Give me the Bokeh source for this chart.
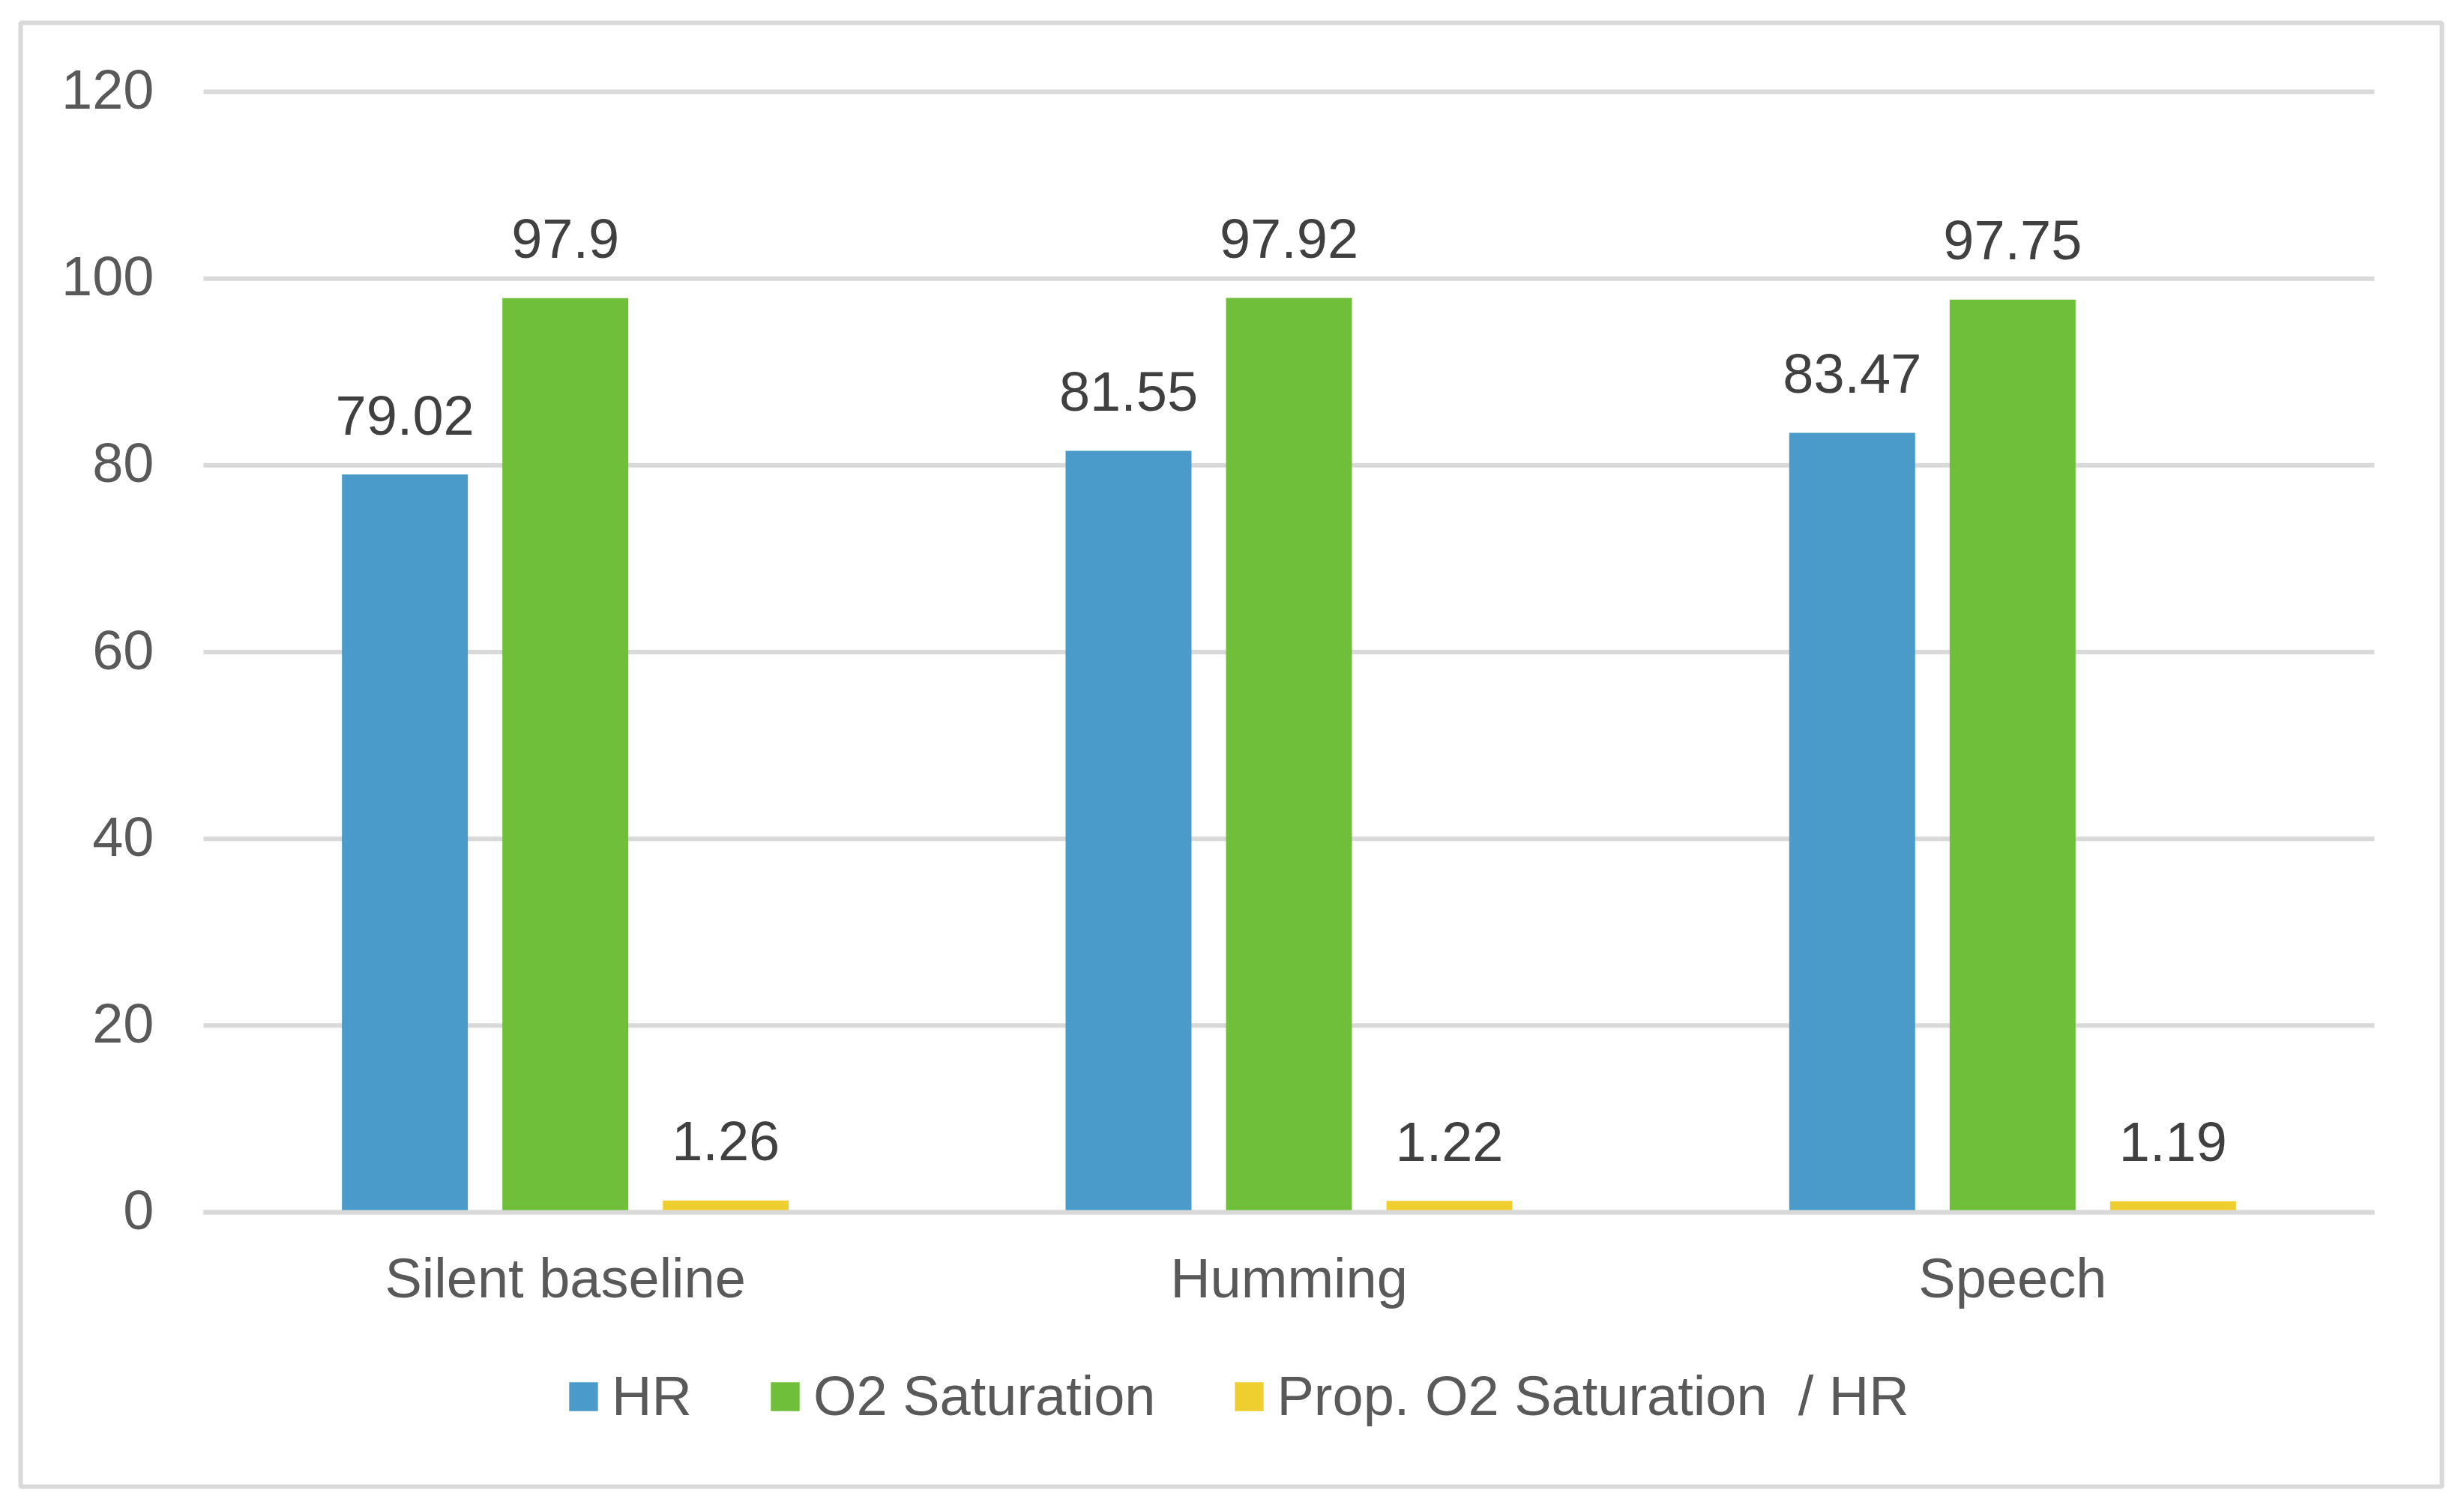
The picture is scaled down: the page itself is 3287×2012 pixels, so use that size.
from bokeh.plotting import figure
from bokeh.models import ColumnDataSource, Range1d, Legend, LegendItem
from bokeh.transform import dodge
from bokeh.core.properties import value
from bokeh.embed import file_html
from bokeh.resources import INLINE

# ---- data ----
categories = ["Silent baseline", "Humming", "Speech"]
series_names = ["HR", "O2 Saturation", "Prop. O2 Saturation  / HR"]
hr_values = [79.02, 81.55, 83.47]
o2_values = [97.9, 97.92, 97.75]
ratio_values = [1.26, 1.22, 1.19]
y_ticks = [0, 20, 40, 60, 80, 100, 120]

colors = ["#4A9BC9", "#70BF3A", "#EFCF2F"]
FONT = "Liberation Sans"
GRID = "#d9d9d9"

x_pos = [i + 1 for i in range(len(categories))]
x_lo, x_hi = x_pos[0] - 0.5, x_pos[-1] + 0.5

source = ColumnDataSource(dict(
    x=x_pos, cat=categories,
    hr=hr_values, o2=o2_values, ratio=ratio_values,
    hr_lbl=[f"{v:g}" for v in hr_values],
    o2_lbl=[f"{v:g}" for v in o2_values],
    ratio_lbl=[f"{v:g}" for v in ratio_values],
    zero=[0] * len(categories),
))
tick_src = ColumnDataSource(dict(
    y=y_ticks, lbl=[str(t) for t in y_ticks],
    x0=[x_lo] * len(y_ticks), x1=[x_hi] * len(y_ticks),
))

# frame = chart-area border box; plot area sits inside it
p = figure(
    x_range=Range1d(0.24724, 3.59323),
    y_range=Range1d(-29.378, 127.385),
    width=3271, height=1996,
    min_border_left=27, min_border_right=14, min_border_top=30, min_border_bottom=13,
    x_axis_location=None, y_axis_location=None,
    output_backend="svg", toolbar_location=None,
)
p.grid.visible = False
p.outline_line_color = GRID
p.outline_line_width = 6
p.background_fill_color = "white"
p.border_fill_color = "white"

# horizontal gridlines (value axis)
p.segment(x0="x0", x1="x1", y0="y", y1="y", source=tick_src,
          line_color=GRID, line_width=6)
# value-axis tick labels
p.text(x="x0", y="y", text="lbl", source=tick_src, text_align="right",
       text_baseline="middle", x_offset=-66, y_offset=-3,
       text_font=value(FONT), text_font_size="74px", text_color="#595959")

offsets = [-0.2217, 0.0, 0.2217]
cols = ["hr", "o2", "ratio"]
renderers = []
for off, col, c in zip(offsets, cols, colors):
    r = p.vbar(x=dodge("x", off), top=col, width=0.174,
               source=source, fill_color=c, line_color=None)
    renderers.append(r)
    p.text(x=dodge("x", off), y=col, text=col + "_lbl", source=source,
           text_align="center", text_baseline="middle", y_offset=-79,
           text_font=value(FONT), text_font_size="74px", text_color="#404040")

# category axis line and labels
p.segment(x0=x_lo, x1=x_hi, y0=0, y1=0, line_color=GRID, line_width=6)
p.text(x="x", y="zero", text="cat", source=source, text_align="center",
       text_baseline="middle", y_offset=88,
       text_font=value(FONT), text_font_size="74px", text_color="#595959")

legend = Legend(
    items=[LegendItem(label=n, renderers=[r]) for n, r in zip(series_names, renderers)],
    orientation="horizontal", location=(727, 78),
    glyph_width=48, glyph_height=48, label_standoff=14, spacing=100,
    padding=0, margin=0, border_line_color=None, background_fill_alpha=0,
    label_text_font=FONT, label_text_font_size="74px", label_text_color="#595959",
)
p.add_layout(legend, "center")

open("out.html", "w").write(file_html(p, INLINE))
